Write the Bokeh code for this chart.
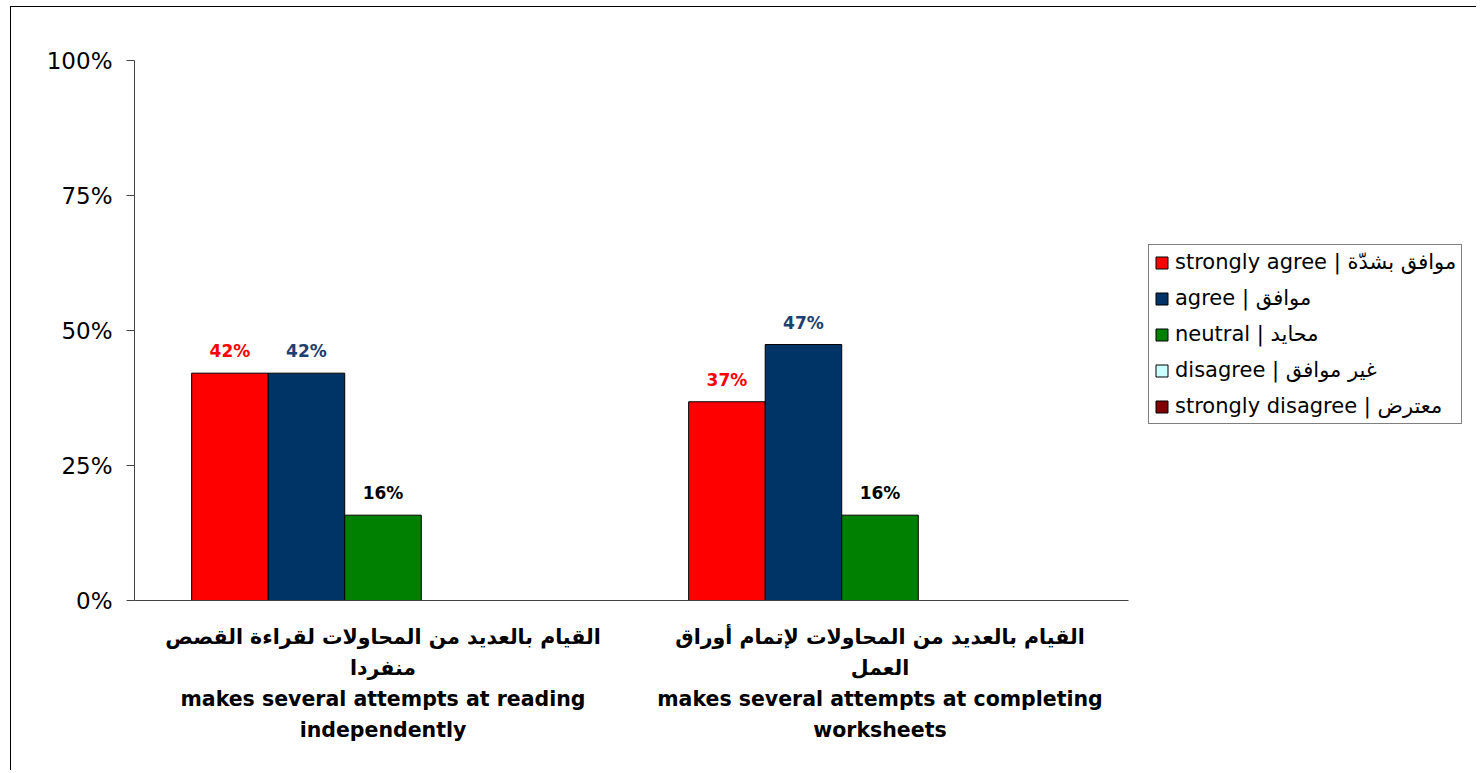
from bokeh.plotting import figure
from bokeh.models import (ColumnDataSource, Range1d, FixedTicker, Legend, LegendItem,
                          LabelSet)
from bokeh.core.properties import value
from bokeh.transform import dodge
from bokeh.embed import file_html
from bokeh.resources import INLINE

# ---------------- data ----------------
categories = [
    "القيام بالعديد من المحاولات لقراءة القصص\nمنفردا\nmakes several attempts at reading\nindependently",
    "القيام بالعديد من المحاولات لإتمام أوراق\nالعمل\nmakes several attempts at completing\nworksheets",
]
series_names = [
    "strongly agree | موافق بشدّة",
    "agree | موافق",
    "neutral | محايد",
    "disagree | غير موافق",
    "strongly disagree | معترض",
]
strongly_agree = [42.1, 36.8]
agree = [42.1, 47.4]
neutral = [15.8, 15.8]
disagree = [0.0, 0.0]
strongly_disagree = [0.0, 0.0]
series_values = [strongly_agree, agree, neutral, disagree, strongly_disagree]
y_ticks = [0, 25, 50, 75, 100]

colors = ["#FF0000", "#003366", "#008000", "#CCFFFF", "#800000"]
label_colors = ["#FF0000", "#1F3F6F", "#000000", "#000000", "#000000"]

FONT = "DejaVu Sans"

# ---------------- layout ----------------
W, H = 1466, 764
BORDER_L, BORDER_T, BORDER_B = 123, 53, 171
frame_w = W - BORDER_L
axis_px = 994                      # visible length of the category axis
n_cat = len(categories)
x_end = n_cat * frame_w / axis_px  # frame reaches the right edge, axis stops at n_cat

p = figure(width=W, height=H, output_backend="svg", toolbar_location=None,
           x_range=Range1d(0, x_end), y_range=Range1d(0, 100),
           min_border_left=BORDER_L, min_border_right=0,
           min_border_top=BORDER_T, min_border_bottom=BORDER_B)
p.styles = {"border-left": "1px solid #000000", "border-top": "1px solid #000000",
            "margin-left": "10px", "margin-top": "6px"}
p.outline_line_color = None
p.xgrid.grid_line_color = None
p.ygrid.grid_line_color = None

x_centers = [i + 0.5 for i in range(n_cat)]
bar_w = 0.154

items = []
for i, (name, vals) in enumerate(zip(series_names, series_values)):
    src = ColumnDataSource(dict(
        x=x_centers, y=vals,
        lbl=[f"{round(v)}%" if v > 0 else "" for v in vals],
    ))
    off = (i - 2) * bar_w
    r = p.vbar(x=dodge("x", off), top="y", width=bar_w, source=src,
               fill_color=colors[i], line_color="#000000", line_width=1)
    items.append(LegendItem(label=name, renderers=[r]))
    labels = LabelSet(x=dodge("x", off), y="y", text="lbl", source=src,
                      text_align="center", text_baseline="bottom", y_offset=12,
                      text_font=value(FONT), text_font_style="bold",
                      text_font_size="17px", text_color=label_colors[i])
    p.add_layout(labels)

# ---------------- axes ----------------
p.yaxis.ticker = FixedTicker(ticks=y_ticks)
p.yaxis.major_label_overrides = {t: f"{t}%" for t in y_ticks}
p.yaxis.major_label_text_font = FONT
p.yaxis.major_label_text_font_size = "23px"
p.yaxis.major_label_text_color = "#000000"
p.yaxis.major_label_standoff = 14
p.yaxis.major_tick_out = 8
p.yaxis.major_tick_in = 0
p.yaxis.minor_tick_line_color = None
p.yaxis.axis_line_color = "#444444"
p.yaxis.major_tick_line_color = "#444444"

p.xaxis.bounds = (0, n_cat)
p.xaxis.ticker = FixedTicker(ticks=x_centers)
p.xaxis.major_label_overrides = {c: lab for c, lab in zip(x_centers, categories)}
p.xaxis.major_label_text_font = FONT
p.xaxis.major_label_text_font_style = "bold"
p.xaxis.major_label_text_font_size = "20.5px"
p.xaxis.major_label_text_color = "#000000"
p.xaxis.major_label_text_line_height = 1.3
p.xaxis.major_label_standoff = 18
p.xaxis.major_tick_line_color = None
p.xaxis.minor_tick_line_color = None
p.xaxis.axis_line_color = "#444444"

# ---------------- legend ----------------
legend = Legend(items=items, location=(1014, 176), orientation="vertical",
                label_text_font=FONT, label_text_font_size="21px",
                label_text_color="#000000",
                glyph_width=15, glyph_height=15, label_height=22,
                spacing=12, padding=5, margin=0, label_standoff=6,
                border_line_color="#000000", border_line_width=1,
                background_fill_color="#FFFFFF", background_fill_alpha=1.0)
p.add_layout(legend, "center")

open("out.html", "w").write(file_html(p, INLINE))
